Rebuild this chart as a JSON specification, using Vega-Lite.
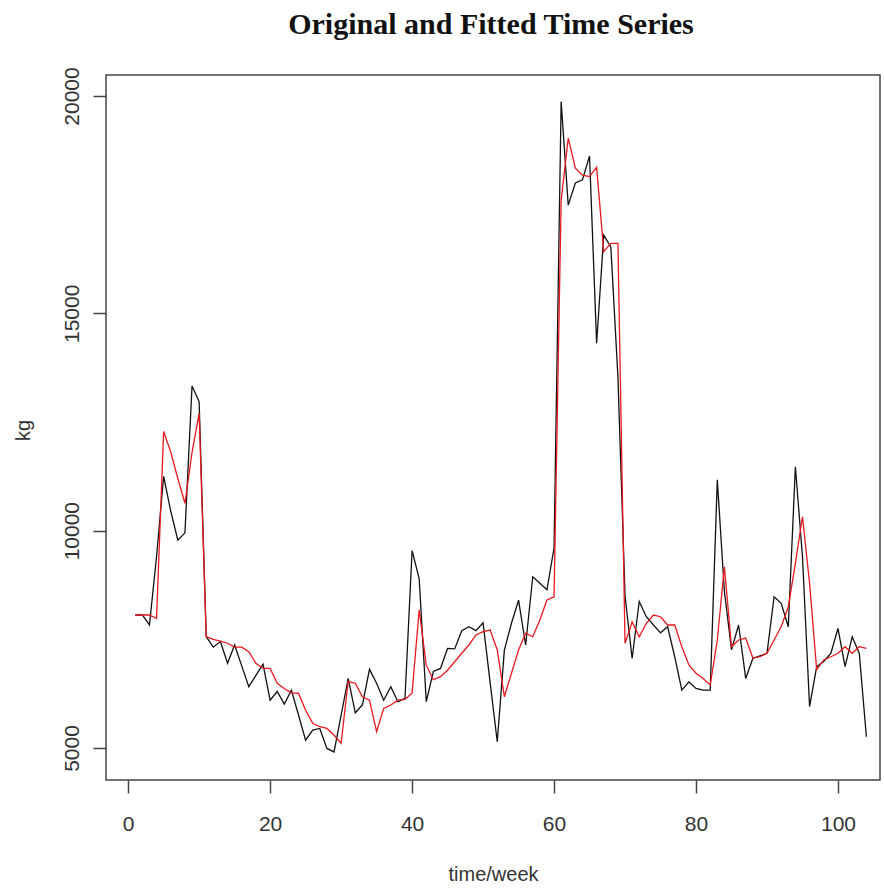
{
  "$schema": "https://vega.github.io/schema/vega-lite/v6.json",
  "autosize": "none",
  "width": 774,
  "height": 705,
  "padding": {"left": 106, "top": 75, "right": 4, "bottom": 108},
  "background": "white",
  "title": {"text": "Original and Fitted Time Series", "font": "Liberation Serif", "fontSize": 30, "fontWeight": "bold", "color": "#111", "anchor": "middle", "frame": "group", "baseline": "alphabetic", "offset": 3, "dx": -2},
  "config": {
    "view": {"stroke": "#444", "strokeWidth": 1.5},
    "axis": {"domain": false, "grid": false, "tickSize": 13, "tickColor": "#444", "tickWidth": 1.5, "labelFont": "Liberation Sans", "labelFontSize": 21, "labelColor": "#333", "titleFont": "Liberation Sans", "titleFontSize": 20, "titleFontWeight": "normal", "titleColor": "#333", "labelOverlap": false, "labelFlush": false}
  },
  "datasets": {
    "original": [
      {"week": 1, "kg": 8060}, {"week": 2, "kg": 8060}, {"week": 3, "kg": 7830}, {"week": 4, "kg": 9400}, {"week": 5, "kg": 11250},
      {"week": 6, "kg": 10450}, {"week": 7, "kg": 9780}, {"week": 8, "kg": 9950}, {"week": 9, "kg": 13330}, {"week": 10, "kg": 12970},
      {"week": 11, "kg": 7560}, {"week": 12, "kg": 7320}, {"week": 13, "kg": 7450}, {"week": 14, "kg": 6950}, {"week": 15, "kg": 7370},
      {"week": 16, "kg": 6890}, {"week": 17, "kg": 6410}, {"week": 18, "kg": 6670}, {"week": 19, "kg": 6930}, {"week": 20, "kg": 6100},
      {"week": 21, "kg": 6300}, {"week": 22, "kg": 6010}, {"week": 23, "kg": 6330}, {"week": 24, "kg": 5760}, {"week": 25, "kg": 5180},
      {"week": 26, "kg": 5410}, {"week": 27, "kg": 5450}, {"week": 28, "kg": 4990}, {"week": 29, "kg": 4910}, {"week": 30, "kg": 5750},
      {"week": 31, "kg": 6600}, {"week": 32, "kg": 5810}, {"week": 33, "kg": 5990}, {"week": 34, "kg": 6810}, {"week": 35, "kg": 6490},
      {"week": 36, "kg": 6100}, {"week": 37, "kg": 6410}, {"week": 38, "kg": 6065}, {"week": 39, "kg": 6140}, {"week": 40, "kg": 9540},
      {"week": 41, "kg": 8900}, {"week": 42, "kg": 6065}, {"week": 43, "kg": 6760}, {"week": 44, "kg": 6830}, {"week": 45, "kg": 7290},
      {"week": 46, "kg": 7280}, {"week": 47, "kg": 7700}, {"week": 48, "kg": 7790}, {"week": 49, "kg": 7700}, {"week": 50, "kg": 7880},
      {"week": 51, "kg": 6500}, {"week": 52, "kg": 5145}, {"week": 53, "kg": 7250}, {"week": 54, "kg": 7870}, {"week": 55, "kg": 8400},
      {"week": 56, "kg": 7370}, {"week": 57, "kg": 8940}, {"week": 58, "kg": 8790}, {"week": 59, "kg": 8640}, {"week": 60, "kg": 9600},
      {"week": 61, "kg": 19870}, {"week": 62, "kg": 17490}, {"week": 63, "kg": 18000}, {"week": 64, "kg": 18070}, {"week": 65, "kg": 18620},
      {"week": 66, "kg": 14310}, {"week": 67, "kg": 16800}, {"week": 68, "kg": 16530}, {"week": 69, "kg": 13540}, {"week": 70, "kg": 8500},
      {"week": 71, "kg": 7060}, {"week": 72, "kg": 8370}, {"week": 73, "kg": 8020}, {"week": 74, "kg": 7830}, {"week": 75, "kg": 7650},
      {"week": 76, "kg": 7790}, {"week": 77, "kg": 7100}, {"week": 78, "kg": 6330}, {"week": 79, "kg": 6520}, {"week": 80, "kg": 6370},
      {"week": 81, "kg": 6330}, {"week": 82, "kg": 6330}, {"week": 83, "kg": 11170}, {"week": 84, "kg": 8600}, {"week": 85, "kg": 7260},
      {"week": 86, "kg": 7830}, {"week": 87, "kg": 6600}, {"week": 88, "kg": 7060}, {"week": 89, "kg": 7120}, {"week": 90, "kg": 7180},
      {"week": 91, "kg": 8480}, {"week": 92, "kg": 8330}, {"week": 93, "kg": 7790}, {"week": 94, "kg": 11470}, {"week": 95, "kg": 9400},
      {"week": 96, "kg": 5950}, {"week": 97, "kg": 6870}, {"week": 98, "kg": 6990}, {"week": 99, "kg": 7180}, {"week": 100, "kg": 7750},
      {"week": 101, "kg": 6870}, {"week": 102, "kg": 7560}, {"week": 103, "kg": 7180}, {"week": 104, "kg": 5260}
    ],
    "fitted": [
      {"week": 1, "kg": 8060}, {"week": 2, "kg": 8060}, {"week": 3, "kg": 8060}, {"week": 4, "kg": 7980}, {"week": 5, "kg": 12280},
      {"week": 6, "kg": 11810}, {"week": 7, "kg": 11200}, {"week": 8, "kg": 10630}, {"week": 9, "kg": 11800}, {"week": 10, "kg": 12700},
      {"week": 11, "kg": 7560}, {"week": 12, "kg": 7500}, {"week": 13, "kg": 7460}, {"week": 14, "kg": 7410}, {"week": 15, "kg": 7320},
      {"week": 16, "kg": 7320}, {"week": 17, "kg": 7215}, {"week": 18, "kg": 6950}, {"week": 19, "kg": 6830}, {"week": 20, "kg": 6830},
      {"week": 21, "kg": 6490}, {"week": 22, "kg": 6370}, {"week": 23, "kg": 6270}, {"week": 24, "kg": 6260}, {"week": 25, "kg": 5870},
      {"week": 26, "kg": 5570}, {"week": 27, "kg": 5490}, {"week": 28, "kg": 5450}, {"week": 29, "kg": 5300}, {"week": 30, "kg": 5110},
      {"week": 31, "kg": 6530}, {"week": 32, "kg": 6490}, {"week": 33, "kg": 6180}, {"week": 34, "kg": 6100}, {"week": 35, "kg": 5375},
      {"week": 36, "kg": 5910}, {"week": 37, "kg": 5990}, {"week": 38, "kg": 6100}, {"week": 39, "kg": 6120}, {"week": 40, "kg": 6260},
      {"week": 41, "kg": 8180}, {"week": 42, "kg": 6900}, {"week": 43, "kg": 6570}, {"week": 44, "kg": 6640}, {"week": 45, "kg": 6790},
      {"week": 46, "kg": 6985}, {"week": 47, "kg": 7180}, {"week": 48, "kg": 7370}, {"week": 49, "kg": 7600}, {"week": 50, "kg": 7675},
      {"week": 51, "kg": 7715}, {"week": 52, "kg": 7255}, {"week": 53, "kg": 6180}, {"week": 54, "kg": 6720}, {"week": 55, "kg": 7255},
      {"week": 56, "kg": 7640}, {"week": 57, "kg": 7560}, {"week": 58, "kg": 7945}, {"week": 59, "kg": 8405}, {"week": 60, "kg": 8480},
      {"week": 61, "kg": 17600}, {"week": 62, "kg": 19030}, {"week": 63, "kg": 18340}, {"week": 64, "kg": 18180}, {"week": 65, "kg": 18145},
      {"week": 66, "kg": 18360}, {"week": 67, "kg": 16420}, {"week": 68, "kg": 16610}, {"week": 69, "kg": 16610}, {"week": 70, "kg": 7410},
      {"week": 71, "kg": 7900}, {"week": 72, "kg": 7560}, {"week": 73, "kg": 7870}, {"week": 74, "kg": 8060}, {"week": 75, "kg": 8020},
      {"week": 76, "kg": 7830}, {"week": 77, "kg": 7830}, {"week": 78, "kg": 7330}, {"week": 79, "kg": 6910}, {"week": 80, "kg": 6720},
      {"week": 81, "kg": 6600}, {"week": 82, "kg": 6450}, {"week": 83, "kg": 7485}, {"week": 84, "kg": 9170}, {"week": 85, "kg": 7330},
      {"week": 86, "kg": 7485}, {"week": 87, "kg": 7530}, {"week": 88, "kg": 7070}, {"week": 89, "kg": 7100}, {"week": 90, "kg": 7180},
      {"week": 91, "kg": 7485}, {"week": 92, "kg": 7790}, {"week": 93, "kg": 8250}, {"week": 94, "kg": 9250}, {"week": 95, "kg": 10320},
      {"week": 96, "kg": 8790}, {"week": 97, "kg": 6800}, {"week": 98, "kg": 7025}, {"week": 99, "kg": 7100}, {"week": 100, "kg": 7180},
      {"week": 101, "kg": 7330}, {"week": 102, "kg": 7180}, {"week": 103, "kg": 7330}, {"week": 104, "kg": 7290}
    ]
  },
  "layer": [
    {
      "data": {"name": "original"},
      "mark": {"type": "line", "color": "#111", "strokeWidth": 1.3, "clip": true},
      "encoding": {
        "x": {"field": "week", "type": "quantitative", "scale": {"domain": [-3.12, 105.92], "nice": false, "zero": false},
              "axis": {"title": "time/week", "values": [0, 20, 40, 60, 80, 100], "labelPadding": 20, "titleY": 100, "titleBaseline": "alphabetic"}},
        "y": {"field": "kg", "type": "quantitative", "scale": {"domain": [4264, 20483], "nice": false, "zero": false},
              "axis": {"title": "kg", "format": "d", "values": [5000, 10000, 15000, 20000], "labelAngle": 270, "labelAlign": "center", "labelBaseline": "alphabetic", "labelPadding": 15, "titleAngle": 270, "titleX": -77, "titleY": 355, "titleAlign": "center", "titleBaseline": "alphabetic"}}
      }
    },
    {
      "data": {"name": "fitted"},
      "mark": {"type": "line", "color": "#e8191e", "strokeWidth": 1.3, "clip": true},
      "encoding": {
        "x": {"field": "week", "type": "quantitative"},
        "y": {"field": "kg", "type": "quantitative"}
      }
    }
  ]
}
